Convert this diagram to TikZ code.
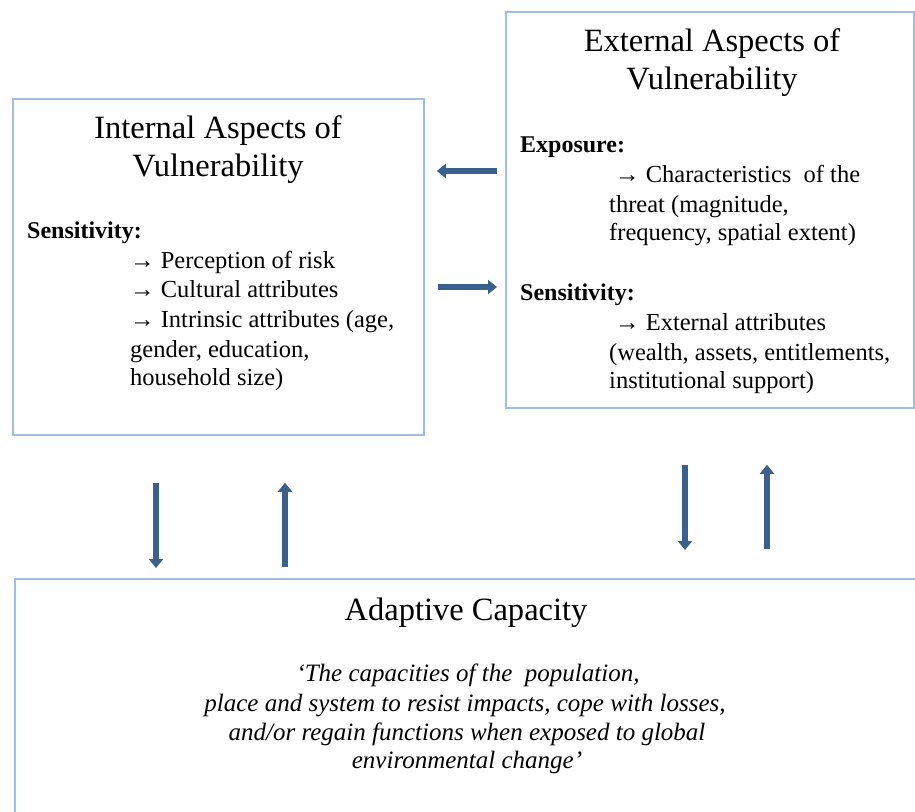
\documentclass[tikz,border=0pt]{standalone}
\usepackage{fontspec}
\setmainfont{Liberation Serif}
\usetikzlibrary{arrows.meta}
\definecolor{boxline}{RGB}{160,190,228}
\definecolor{flowblue}{RGB}{59,96,142}
\begin{document}
\begin{tikzpicture}[x=1pt,y=-1pt,
  panel/.style={draw=boxline, line width=1.8pt, inner sep=0pt, anchor=north west},
  body/.style={inner sep=0pt, anchor=base west, font=\fontsize{24.5}{29}\selectfont},
  head/.style={inner sep=0pt, anchor=base west, font=\fontsize{24}{29}\selectfont\bfseries},
  title/.style={inner sep=0pt, anchor=base, font=\fontsize{32.5}{38}\selectfont},
  quote/.style={inner sep=0pt, anchor=base, font=\fontsize{25}{29}\selectfont\itshape},
  flow/.style={draw=flowblue, line width=5.5pt, -{Triangle[length=9pt,width=14pt]}}
]
\path[use as bounding box, clip] (0,0) rectangle (915,811);

% the three panels
\node[panel, minimum width=411pt, minimum height=336pt] (internal) at (12,98) {};
\node[panel, minimum width=408pt, minimum height=396pt] (external) at (505,11) {};
\node[panel, minimum width=960pt, minimum height=320pt] (adaptive) at (14,578) {};

% internal aspects
\node[title] (in-t1) at (218,138) {Internal Aspects of};
\node[title] (in-t2) at (218,176) {Vulnerability};
\node[head] (in-s) at (27,238) {Sensitivity:};
\node[body] (in-1) at (130,268) {→ Perception of risk};
\node[body] (in-2) at (130,297) {→ Cultural attributes};
\node[body] (in-3) at (130,327) {→ Intrinsic attributes (age,};
\node[body] (in-4) at (130,357) {gender, education,};
\node[body] (in-5) at (130,385) {household size)};

% external aspects
\node[title] (ex-t1) at (712,51) {External Aspects of};
\node[title] (ex-t2) at (712,89) {Vulnerability};
\node[head] (ex-e) at (520,152) {Exposure:};
\node[body] (ex-1) at (615,182) {→ Characteristics\ \ of the};
\node[body] (ex-2) at (609,212) {threat (magnitude,};
\node[body] (ex-3) at (609,240) {frequency, spatial extent)};
\node[head] (ex-s) at (520,300) {Sensitivity:};
\node[body] (ex-4) at (615,330) {→ External attributes};
\node[body] (ex-5) at (609,360) {(wealth, assets, entitlements,};
\node[body] (ex-6) at (609,388) {institutional support)};

% adaptive capacity
\node[title] (ad-t) at (466,620) {Adaptive Capacity};
\node[quote] (ad-1) at (468,681) {‘The capacities of the\ \ population,};
\node[quote] (ad-2) at (465,711) {place and system to resist impacts, cope with losses,};
\node[quote] (ad-3) at (467,740) {and/or regain functions when exposed to global};
\node[quote] (ad-4) at (467,768) {environmental change’};

% connector rows and columns
\coordinate (rowA) at (0,171);
\coordinate (rowB) at (0,287);
\coordinate (colA) at (156,0);
\coordinate (colB) at (285,0);
\coordinate (colC) at (685,0);
\coordinate (colD) at (767,0);

\draw[flow, shorten <=8pt, shorten >=12pt] (external.west |- rowA) -- (internal.east |- rowA);
\draw[flow, shorten <=13pt, shorten >=8pt] (internal.east |- rowB) -- (external.west |- rowB);
\draw[flow, shorten <=47pt, shorten >=10pt] (internal.south -| colA) -- (adaptive.north -| colA);
\draw[flow, shorten <=11pt, shorten >=47pt] (adaptive.north -| colB) -- (internal.south -| colB);
\draw[flow, shorten <=56pt, shorten >=28pt] (external.south -| colC) -- (adaptive.north -| colC);
\draw[flow, shorten <=29pt, shorten >=56pt] (adaptive.north -| colD) -- (external.south -| colD);
\end{tikzpicture}
\end{document}
